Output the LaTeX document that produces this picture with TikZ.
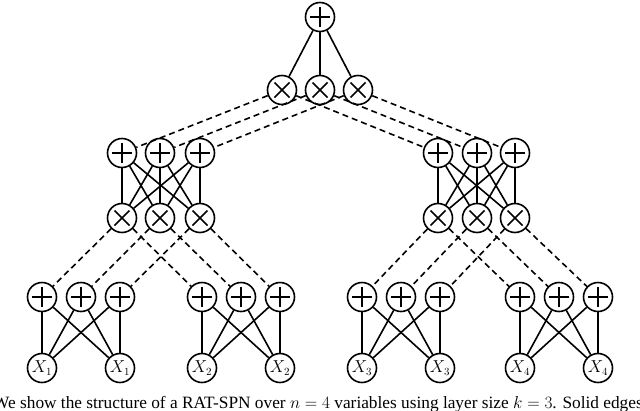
\documentclass[tikz,border=0pt]{standalone}
\usepackage{fontspec}
\setmainfont{Liberation Serif}
\begin{document}
\begin{tikzpicture}[x=1pt,y=-1pt,line width=1.6pt,
 nd/.style={circle,draw,minimum size=29pt,inner sep=0pt,fill=white},
 sm/.style={nd,path picture={\draw[line width=1.8pt] ([xshift=-10pt]path picture bounding box.center)--++(20pt,0) ([yshift=-10pt]path picture bounding box.center)--++(0,20pt);}},
 pr/.style={nd,path picture={\draw[line width=1.6pt] ([shift={(-7.5pt,-7.5pt)}]path picture bounding box.center)--++(15pt,15pt) ([shift={(-7.5pt,7.5pt)}]path picture bounding box.center)--++(15pt,-15pt);}},
 lf/.style={nd,font=\fontsize{16}{18}\selectfont},
 dsh/.style={dash pattern=on 6pt off 4pt}]
\useasboundingbox (0,0) rectangle (640,410);
\node[sm] (r) at (320,17) {};
\foreach \i/\x in {1/282,2/320,3/358} \node[pr] (p\i) at (\x,90) {};
\foreach \i/\x in {1/122,2/160,3/200} {\node[sm] (la\i) at (\x,153) {}; \node[pr] (lb\i) at (\x,218) {};}
\foreach \i/\x in {1/438,2/477,3/515} {\node[sm] (ra\i) at (\x,153) {}; \node[pr] (rb\i) at (\x,218) {};}
\foreach \g/\o in {a/0,b/160,c/320,d/478} \foreach \i/\x in {1/42,2/81,3/120} \node[sm] (s\g\i) at (\x+\o,297) {};
\node[lf] (xa1) at (42,368) {$X_1$}; \node[lf] (xa2) at (120,368) {$X_1$};
\node[lf] (xb1) at (202,368) {$X_2$}; \node[lf] (xb2) at (280,368) {$X_2$};
\node[lf] (xc1) at (362,368) {$X_3$}; \node[lf] (xc2) at (440,368) {$X_3$};
\node[lf] (xd1) at (520,368) {$X_4$}; \node[lf] (xd2) at (598,368) {$X_4$};
\foreach \i in {1,2,3} {
 \draw (r)--(p\i);
 \draw[dsh] (p\i)--(la\i); \draw[dsh] (p\i)--(ra\i);
 \draw[dsh] (lb\i)--(sa\i); \draw[dsh] (lb\i)--(sb\i);
 \draw[dsh] (rb\i)--(sc\i); \draw[dsh] (rb\i)--(sd\i);
 \foreach \j in {1,2,3} {\draw (la\i)--(lb\j); \draw (ra\i)--(rb\j);}
 \foreach \g in {a,b,c,d} {\draw (s\g\i)--(x\g1); \draw (s\g\i)--(x\g2);}
}
\node[anchor=base,font=\fontsize{17.3}{20}\selectfont] (cap) at (318,408) {We show the structure of a RAT-SPN over $n=4$ variables using layer size $k=3$. Solid edges};
\end{tikzpicture}
\end{document}
